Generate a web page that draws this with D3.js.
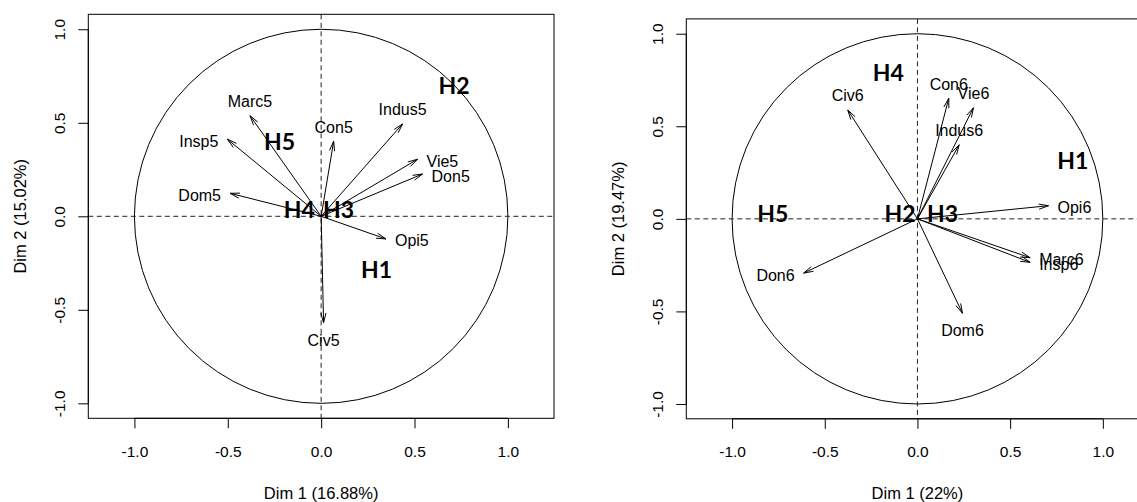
<!DOCTYPE html>
<html><head><meta charset="utf-8">
<script src="https://cdn.jsdelivr.net/npm/d3@7"></script>
<style>body{margin:0;background:#fff}svg{display:block}</style>
</head><body>
<svg id="chart" width="1137" height="502"></svg>
<script>
// ---- data ----
const tickValues = [-1.0, -0.5, 0.0, 0.5, 1.0];
const tickLabels = ["-1.0", "-0.5", "0.0", "0.5", "1.0"];

const vars5 = ["Marc5", "Insp5", "Dom5", "Con5", "Indus5", "Vie5", "Don5", "Opi5", "Civ5"];
const dim1_5 = [-0.381, -0.502, -0.488, 0.067, 0.436, 0.516, 0.543, 0.347, 0.013];
const dim2_5 = [0.538, 0.412, 0.123, 0.401, 0.494, 0.305, 0.226, -0.121, -0.569];
const hNames5 = ["H1", "H2", "H3", "H4", "H5"];
const hDim1_5 = [0.297, 0.712, 0.093, -0.117, -0.223];
const hDim2_5 = [-0.283, 0.697, 0.034, 0.034, 0.399];
const xTitle5 = "Dim 1 (16.88%)";
const yTitle5 = "Dim 2 (15.02%)";

const vars6 = ["Civ6", "Con6", "Vie6", "Indus6", "Opi6", "Marc6", "Insp6", "Don6", "Dom6"];
const dim1_6 = [-0.376, 0.169, 0.302, 0.225, 0.707, 0.608, 0.608, -0.614, 0.243];
const dim2_6 = [0.588, 0.651, 0.600, 0.400, 0.071, -0.210, -0.235, -0.293, -0.510];
const hNames6 = ["H1", "H2", "H3", "H4", "H5"];
const hDim1_6 = [0.838, -0.094, 0.135, -0.157, -0.780];
const hDim2_6 = [0.314, 0.026, 0.026, 0.791, 0.026];
const xTitle6 = "Dim 1 (22%)";
const yTitle6 = "Dim 2 (19.47%)";

const xLim = [-1.247, 1.247];
const yLim = [-1.08, 1.08];

// ---- layout ----
const panels = [
  {names: vars5, d1: dim1_5, d2: dim2_5, hn: hNames5, hx: hDim1_5, hy: hDim2_5,
   xt: xTitle5, yt: yTitle5, left: 88.3, right: 554, top: 14.3, bottom: 418.3},
  {names: vars6, d1: dim1_6, d2: dim2_6, hn: hNames6, hx: hDim1_6, hy: hDim2_6,
   xt: xTitle6, yt: yTitle6, left: 686.3, right: 1148.6, top: 18.9, bottom: 418.8}
];

const svg = d3.select("#chart");
const FONT = "'Liberation Sans', Arial, sans-serif";

panels.forEach(p => {
  const x = d3.scaleLinear().domain(xLim).range([p.left, p.right]);
  const y = d3.scaleLinear().domain(yLim).range([p.bottom, p.top]);
  const g = svg.append("g");

  // unit circle
  g.append("ellipse")
    .attr("cx", x(0)).attr("cy", y(0))
    .attr("rx", x(1) - x(0)).attr("ry", y(0) - y(1))
    .attr("fill", "none").attr("stroke", "#000").attr("stroke-width", 1);

  // dashed zero lines
  g.append("line").attr("x1", p.left).attr("x2", p.right)
    .attr("y1", y(0)).attr("y2", y(0))
    .attr("stroke", "#222").attr("stroke-dasharray", "5,3.5");
  g.append("line").attr("x1", x(0)).attr("x2", x(0))
    .attr("y1", p.top).attr("y2", p.bottom)
    .attr("stroke", "#222").attr("stroke-dasharray", "5,3.5");

  // box
  g.append("rect").attr("x", p.left).attr("y", p.top)
    .attr("width", p.right - p.left).attr("height", p.bottom - p.top)
    .attr("fill", "none").attr("stroke", "#000").attr("stroke-width", 1);

  // x axis
  const xAxis = d3.axisBottom(x).tickValues(tickValues)
    .tickFormat((d, i) => tickLabels[i]).tickSize(10).tickPadding(0).tickSizeOuter(0);
  const gx = g.append("g").attr("transform", `translate(0,${p.bottom})`).call(xAxis);
  gx.select(".domain").attr("d", `M${x(-1)},0H${x(1)}`).attr("stroke", "#000");
  gx.selectAll(".tick text").attr("y", 38.5).attr("dy", null)
    .attr("font-family", FONT).attr("font-size", 15.5).attr("fill", "#000");

  // y axis
  const yAxis = d3.axisLeft(y).tickValues(tickValues)
    .tickFormat((d, i) => tickLabels[i]).tickSize(10).tickPadding(0).tickSizeOuter(0);
  const gy = g.append("g").attr("transform", `translate(${p.left},0)`).call(yAxis);
  gy.select(".domain").attr("d", `M0,${y(-1)}V${y(1)}`).attr("stroke", "#000");
  gy.selectAll(".tick text")
    .attr("x", null).attr("dy", null)
    .attr("transform", "translate(-23,0) rotate(-90)")
    .attr("text-anchor", "middle")
    .attr("font-family", FONT).attr("font-size", 15.5).attr("fill", "#000");

  // axis titles
  g.append("text").attr("x", (p.left + p.right) / 2).attr("y", 499)
    .attr("text-anchor", "middle").attr("font-family", FONT).attr("font-size", 16.5)
    .text(p.xt);
  const ty = (p.top + p.bottom) / 2;
  g.append("text").attr("transform", `translate(${p.left - 62},${ty}) rotate(-90)`)
    .attr("text-anchor", "middle").attr("font-family", FONT).attr("font-size", 16.5)
    .text(p.yt);

  // arrows
  const cx = x(0), cy = y(0);
  const L = 10, ang = 15 * Math.PI / 180;
  p.names.forEach((name, i) => {
    const tx = x(p.d1[i]), tyy = y(p.d2[i]);
    g.append("line").attr("x1", cx).attr("y1", cy).attr("x2", tx).attr("y2", tyy)
      .attr("stroke", "#000").attr("stroke-width", 1);
    const th = Math.atan2(tyy - cy, tx - cx);
    const p1 = [tx - L * Math.cos(th - ang), tyy - L * Math.sin(th - ang)];
    const p2 = [tx - L * Math.cos(th + ang), tyy - L * Math.sin(th + ang)];
    g.append("path").attr("d", `M${p1}L${tx},${tyy}L${p2}`)
      .attr("fill", "none").attr("stroke", "#000").attr("stroke-width", 1);

    const vx = p.d1[i], vy = p.d2[i];
    const t = g.append("text").attr("font-family", FONT).attr("font-size", 16)
      .attr("fill", "#000").text(name);
    if (Math.abs(vx) >= Math.abs(vy)) {
      if (vx >= 0) t.attr("x", tx + 9).attr("y", tyy + 7.5).attr("text-anchor", "start");
      else t.attr("x", tx - 9).attr("y", tyy + 7.5).attr("text-anchor", "end");
    } else {
      if (vy >= 0) t.attr("x", tx).attr("y", tyy - 8.5).attr("text-anchor", "middle");
      else t.attr("x", tx).attr("y", tyy + 23).attr("text-anchor", "middle");
    }
  });

  // H annotations
  p.hn.forEach((h, i) => {
    g.append("text").attr("x", x(p.hx[i])).attr("y", y(p.hy[i]))
      .attr("dy", "0.36em").attr("text-anchor", "middle")
      .attr("font-family", "Lato, 'Open Sans', sans-serif").attr("font-weight", "bold")
      .attr("font-size", 23).attr("fill", "#000").text(h);
  });
});
</script>
</body></html>
